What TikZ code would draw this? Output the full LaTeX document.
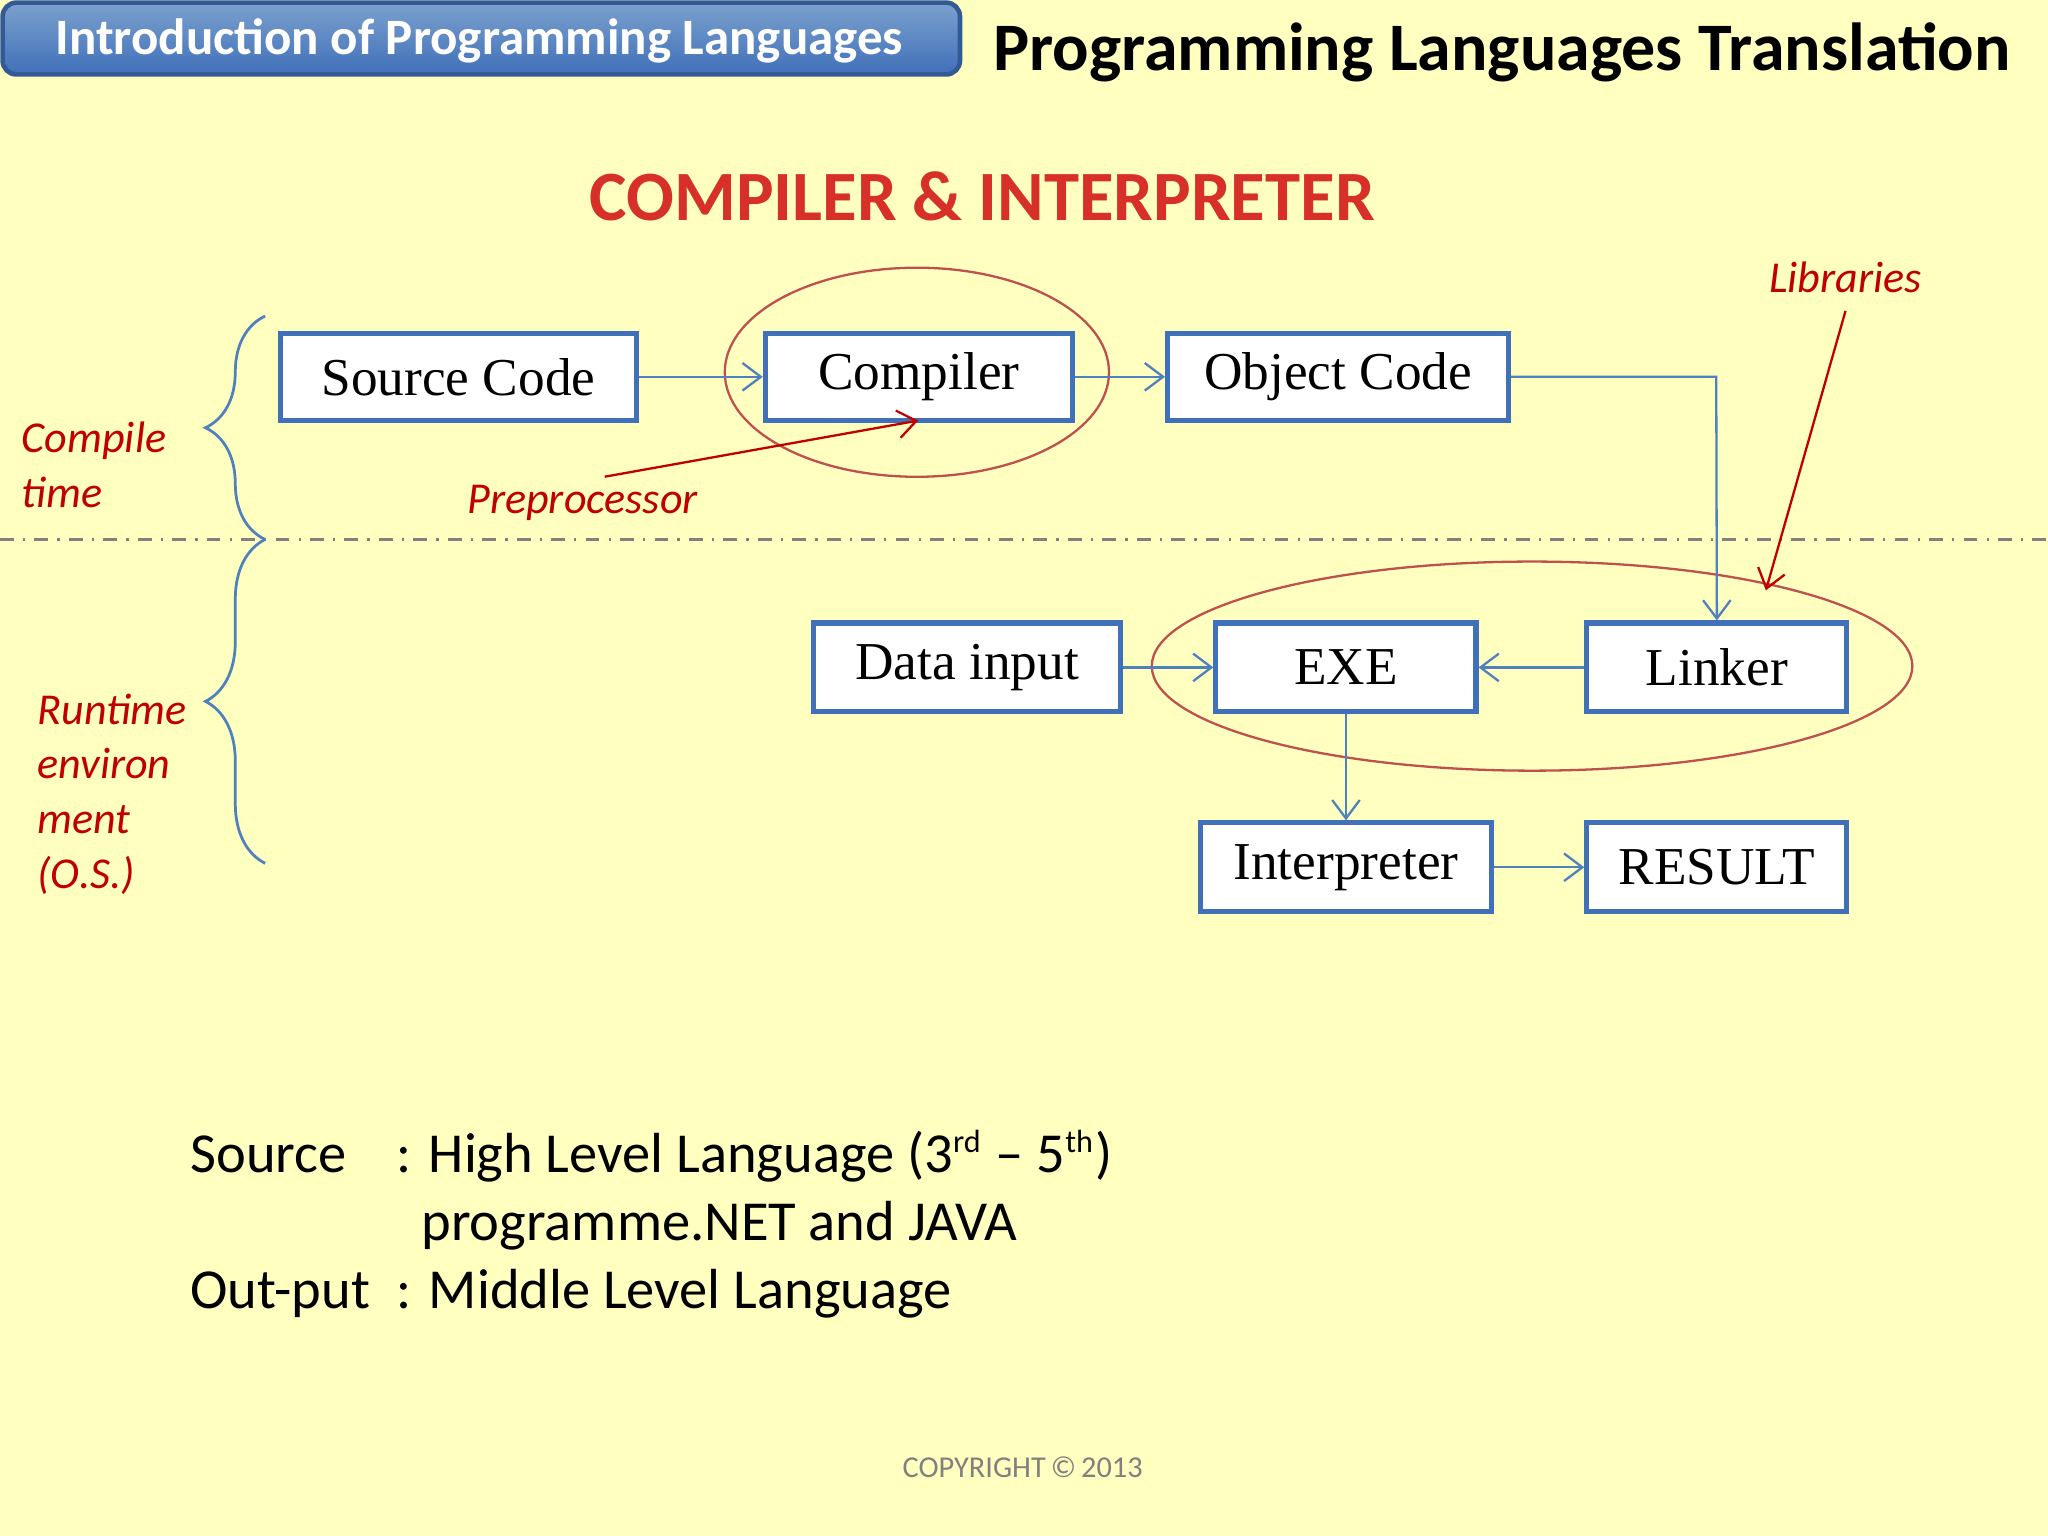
\documentclass[tikz,border=0pt]{standalone}
\usepackage{fontspec}
\setmainfont{Carlito}
\newfontfamily\boxfont{Liberation Serif}
\usetikzlibrary{decorations.pathreplacing,arrows.meta}
\definecolor{bg}{RGB}{255,255,192}
\definecolor{bblue}{RGB}{64,112,185}
\definecolor{lblue}{RGB}{79,129,189}
\definecolor{tred}{RGB}{214,48,40}
\definecolor{dred}{RGB}{192,0,0}
\definecolor{ered}{RGB}{192,80,77}
\tikzset{
 x=0.01cm,y=-0.01cm,
 blk/.style={draw=bblue,line width=1.1pt,fill=white,inner sep=0pt,font=\boxfont\fontsize{11.6}{14}\selectfont},
 conn/.style={draw=lblue,line width=0.5pt,-{Straight Barb[length=4pt,width=6pt]}},
 lab/.style={text=dred,font=\itshape\fontsize{9.6}{11.9}\selectfont,align=left,inner sep=0pt},
 ell/.style={draw=ered,line width=0.5pt},
 brc/.style={draw=lblue,line width=0.6pt,decorate,decoration={brace,amplitude=13pt,aspect=0.5,mirror}},
}
\begin{document}
\begin{tikzpicture}
\fill[bg] (0,0) rectangle (1568,1176);
\useasboundingbox (0,0) rectangle (1568,1176);
\shade[top color=lblue!75,bottom color=bblue,draw=bblue!80!black,line width=1pt,rounded corners=3pt] (2,2) rectangle (735,57);
\node[text=white,font=\bfseries\fontsize{11.1}{13}\selectfont] (hdr) at (367,31) {Introduction of Programming Languages};
\node[font=\bfseries\fontsize{14.8}{17}\selectfont] (ttl) at (1150,40) {Programming Languages Translation};
\node[text=tred,font=\bfseries\fontsize{15.4}{18}\selectfont] (sub) at (752,150) {COMPILER \& INTERPRETER};

\draw[ell] (702,285) ellipse [x radius=1.47cm,y radius=0.8cm];
\draw[ell] (1173,510) ellipse [x radius=2.91cm,y radius=0.8cm];

\node[blk,minimum width=2.72cm,minimum height=0.67cm] (src) at (351,288.5) {Source Code};
\node[blk,minimum width=2.35cm,minimum height=0.67cm] (cmp) at (703.5,288.5) {Compiler};
\node[blk,minimum width=2.61cm,minimum height=0.67cm] (obj) at (1024.5,288.5) {Object Code};
\node[blk,minimum width=2.35cm,minimum height=0.68cm] (dat) at (740.5,511) {Data input};
\node[blk,minimum width=1.99cm,minimum height=0.68cm] (exe) at (1030.5,511) {EXE};
\node[blk,minimum width=1.99cm,minimum height=0.68cm] (lnk) at (1314.5,511) {Linker};
\node[blk,minimum width=2.23cm,minimum height=0.68cm] (int) at (1030.5,664) {Interpreter};
\node[blk,minimum width=1.99cm,minimum height=0.68cm] (res) at (1314.5,664) {RESULT};

\draw[conn] (src) -- (cmp);
\draw[conn] (cmp) -- (obj);
\draw[conn] (obj.east) -- (1314,288.5) -- (lnk.north);
\draw[conn] (lnk) -- (exe);
\draw[conn] (dat) -- (exe);
\draw[conn] (exe) -- (int);
\draw[conn] (int) -- (res);

\draw[gray,line width=0.5pt,dash dot] (0,413) -- (1568,413);

\draw[brc] (203,242) -- (203,413);
\draw[brc] (203,413) -- (203,661);

\node[lab,anchor=west] (ct) at (16,356) {Compile\\time};
\node[lab,anchor=west] (rt) at (28,608) {Runtime\\environ\\ment\\(O.S.)};

\node[lab] (pre) at (446,385) {Preprocessor};
\coordinate (pret) at (703,322);
\draw[dred,line width=0.5pt,-{Straight Barb[length=4pt,width=6pt]}] (463,365) -- (pret);
\node[lab] (lib) at (1413,212) {Libraries};
\coordinate (libt) at (1352,452);
\draw[dred,line width=0.5pt,-{Straight Barb[length=4pt,width=6pt]}] (1413,238) -- (libt);

\begin{scope}[every node/.style={anchor=base west,inner sep=0pt,font=\fontsize{12.3}{14}\selectfont}]
\node (s1) at (145,898) {Source};
\node (s2) at (303,898) {: High Level Language (3\textsuperscript{\scriptsize rd} -- 5\textsuperscript{\scriptsize th})};
\node (s3) at (322,950) {programme.NET and JAVA};
\node (o1) at (145,1002) {Out-put};
\node (o2) at (303,1002) {: Middle Level Language};
\end{scope}
\node[text=gray,font=\fontsize{6.6}{8}\selectfont] (cp) at (783,1123) {COPYRIGHT\,\textcopyright\,2013};
\end{tikzpicture}
\end{document}
